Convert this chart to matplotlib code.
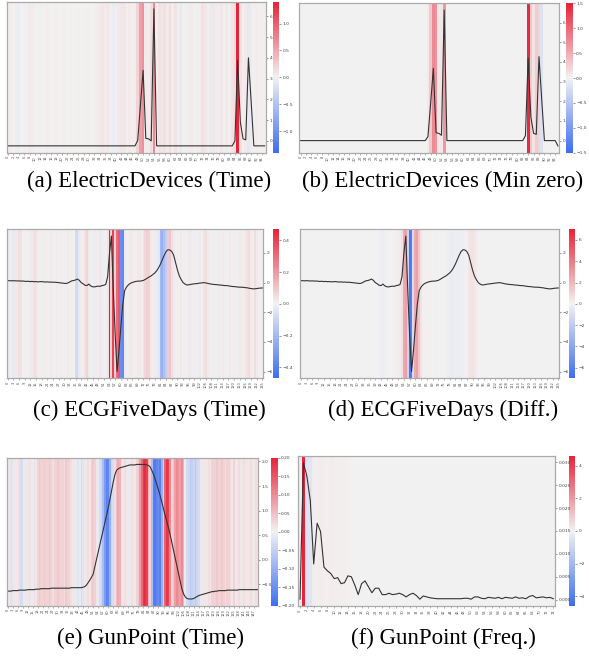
import numpy as np
import matplotlib
matplotlib.use('Agg')
import matplotlib.pyplot as plt
import seaborn as sns

# attribution values (one row per panel) and the series drawn on top
heat_a = [0.02, 0.04, 0.02, -0.04, -0.05, 0.01, 0.03, -0.02, 0.06, 0.04, 0.02, 0.01,
          0.02, 0.01, 0.03, 0.02, 0.01, 0.02, 0.02, 0.01, 0.02, 0.02, 0.01, 0.02,
          0.01, 0.02, 0.02, 0.01, 0.02, 0.02, 0.02, 0.01, 0.02, 0.04, 0.06, 0.08,
          0.05, 0.07, -0.03, -0.05, -0.03, 0.06, 0.08, 0.07, 0.02, 0.05, 0.03, 0.04,
          0.20, 0.55, 0.65, 0.05, 0.04, 0.15, 0.70, 0.03, 0.10, 0.07, 0.12, 0.05,
          0.14, 0.03, 0.10, -0.04, -0.09, 0.02, -0.03, 0.04, 0.05, 0.02, -0.03, 0.04,
          0.12, 0.07, 0.03, -0.06, 0.07, -0.05, 0.04, 0.07, 0.02, 0.06, 0.03, 0.10,
          0.15, 1.40, 0.10, 0.03, 0.06, -0.09, -0.06, 0.02, 0.04, 0.02, 0.03, 0.02]
line_a = [-0.24, -0.24, -0.24, -0.24, -0.24, -0.24, -0.24, -0.24, -0.24, -0.24, -0.24, -0.24,
          -0.24, -0.24, -0.24, -0.24, -0.24, -0.24, -0.24, -0.24, -0.24, -0.24, -0.24, -0.24,
          -0.24, -0.24, -0.24, -0.24, -0.24, -0.24, -0.24, -0.24, -0.24, -0.24, -0.24, -0.24,
          -0.24, -0.24, -0.24, -0.24, -0.24, -0.24, -0.24, -0.24, -0.24, -0.24, -0.24, -0.24,
          0.02, 1.70, 3.40, 0.12, 0.10, 0.00, 6.36, -0.24, -0.24, -0.24, -0.24, -0.24,
          -0.24, -0.24, -0.24, -0.24, -0.24, -0.24, -0.24, -0.24, -0.24, -0.24, -0.24, -0.24,
          -0.24, -0.24, -0.24, -0.24, -0.24, -0.24, -0.24, -0.24, -0.24, -0.24, -0.24, -0.24,
          0.00, 3.90, 0.90, 0.10, 0.05, 4.00, 1.90, -0.24, -0.24, -0.24, -0.24, -0.24]

heat_b = [0, 0, 0, 0, 0, 0, 0, 0, 0, 0, 0, 0,
          0, 0, 0, 0, 0, 0, 0, 0, 0, 0, 0, 0,
          0, 0, 0, 0, 0, 0, 0, 0, 0, 0, 0, 0,
          0, 0, 0, 0, 0, 0, 0, 0, 0, 0, 0, 0.06,
          0.30, 0.75, 0.70, 0.08, 0.08, 0.65, 0, 0, 0, 0, 0, 0,
          0, 0, 0, 0, 0, 0, 0, 0, 0, 0, 0, 0,
          0, 0, 0, 0, 0, 0, 0, 0, 0, 0, 0, 0,
          1.45, 0.30, 0.10, 0.28, 0.22, -0.18, 0, 0, 0, 0, 0, 0]
line_b = [0.00, 0.00, 0.00, 0.00, 0.00, 0.00, 0.00, 0.00, 0.00, 0.00, 0.00, 0.00,
          0.00, 0.00, 0.00, 0.00, 0.00, 0.00, 0.00, 0.00, 0.00, 0.00, 0.00, 0.00,
          0.00, 0.00, 0.00, 0.00, 0.00, 0.00, 0.00, 0.00, 0.00, 0.00, 0.00, 0.00,
          0.00, 0.00, 0.00, 0.00, 0.00, 0.00, 0.00, 0.00, 0.00, 0.00, 0.00, 0.20,
          1.90, 3.68, 0.40, 0.37, 0.27, 6.64, 0.00, 0.00, 0.00, 0.00, 0.00, 0.00,
          0.00, 0.00, 0.00, 0.00, 0.00, 0.00, 0.00, 0.00, 0.00, 0.00, 0.00, 0.00,
          0.00, 0.00, 0.00, 0.00, 0.00, 0.00, 0.00, 0.00, 0.00, 0.00, 0.00, 0.25,
          4.19, 1.20, 0.37, 0.32, 4.27, 2.10, 0.00, 0.00, 0.00, 0.00, 0.00, -0.27]

heat_c = [-0.02, -0.02, 0.01, -0.03, -0.02, 0.02, 0.04, 0.04, -0.01, 0.01,
          0.01, -0.01, 0.02, 0.02, 0.04, 0.04, 0.01, -0.01, 0.01, 0.02,
          0.01, 0.01, -0.01, 0.02, 0.01, 0.01, -0.02, 0.01, 0.02, 0.01,
          -0.01, 0.01, 0.02, 0.01, 0.01, 0.00, -0.08, -0.09, -0.03, 0.02,
          0.01, 0.04, 0.06, 0.02, -0.01, 0.01, -0.02, 0.02, 0.01, -0.03,
          0.02, -0.01, 0.01, 0.04, 0.47, 0.08, 0.40, 0.08, 0.30, 0.35,
          -0.35, -0.38, 0.02, -0.01, 0.01, 0.02, 0.02, -0.01, 0.01, 0.02,
          0.02, 0.01, 0.03, 0.06, 0.08, 0.07, 0.02, 0.01, 0.02, -0.02,
          -0.04, -0.20, -0.23, -0.18, -0.13, 0.09, 0.10, 0.04, -0.02, 0.01,
          -0.02, 0.01, 0.02, -0.01, 0.01, 0.01, 0.02, -0.02, 0.01, 0.01,
          0.01, -0.01, 0.02, 0.01, 0.03, 0.05, 0.02, 0.01, 0.01, -0.01,
          0.01, 0.01, -0.02, 0.01, 0.02, 0.01, 0.01, -0.01, 0.02, 0.01,
          0.01, 0.01, -0.01, 0.02, 0.01, 0.01, 0.02, 0.04, 0.05, 0.02,
          0.01, 0.05, 0.02, 0.01, -0.01, 0.01]
line_c = [0.13, 0.13, 0.12, 0.13, 0.12, 0.11, 0.12, 0.10, 0.11, 0.09,
          0.08, 0.09, 0.07, 0.08, 0.06, 0.07, 0.05, 0.06, 0.07, 0.05,
          0.04, 0.05, 0.03, 0.04, 0.02, 0.03, 0.01, 0.00, -0.02, -0.03,
          -0.05, -0.06, -0.02, 0.05, 0.12, 0.14, 0.18, 0.24, 0.15, 0.00,
          -0.08, -0.18, -0.20, -0.10, -0.22, -0.28, -0.29, -0.26, -0.24, -0.25,
          -0.20, -0.18, -0.12, 0.40, 2.00, 3.14, -0.50, -3.50, -6.00, -4.60,
          -3.00, -1.50, -0.55, -0.30, -0.15, -0.05, 0.00, 0.05, 0.08, 0.10,
          0.10, 0.12, 0.15, 0.22, 0.30, 0.38, 0.45, 0.55, 0.65, 0.80,
          1.00, 1.25, 1.55, 1.85, 2.10, 2.22, 2.20, 2.10, 1.85, 1.35,
          0.85, 0.45, 0.20, 0.00, -0.10, -0.16, -0.15, -0.12, -0.10, -0.08,
          -0.07, -0.05, -0.03, -0.02, 0.00, -0.02, -0.05, -0.08, -0.10, -0.12,
          -0.13, -0.14, -0.16, -0.17, -0.18, -0.20, -0.20, -0.22, -0.24, -0.26,
          -0.27, -0.28, -0.30, -0.31, -0.31, -0.32, -0.34, -0.35, -0.38, -0.40,
          -0.42, -0.42, -0.40, -0.38, -0.37, -0.36]

heat_d = [0.10, -0.10, 0.05, -0.10, 0.05, 0.00, 0.05, 0.00, 0.05, 0.00,
          0.00, 0.05, 0.00, 0.00, 0.05, 0.00, 0.00, 0.05, 0.00, 0.00,
          0.05, 0.00, 0.00, 0.05, 0.00, 0.00, 0.05, 0.00, 0.00, 0.05,
          0.00, 0.00, 0.05, 0.00, 0.00, 0.05, 0.00, 0.00, 0.05, 0.00,
          0.00, -0.10, -0.20, -0.20, -0.10, 0.00, 0.05, 0.00, 0.05, 0.10,
          0.10, 0.20, 0.30, 0.60, 2.50, 2.80, -1.50, -6.50, -6.00, -1.00,
          2.50, 2.80, 1.50, 0.50, 0.10, 0.10, 0.10, 0.05, 0.10, 0.05,
          0.05, 0.10, 0.05, 0.00, 0.05, 0.00, -0.10, -0.20, -0.30, -0.30,
          -0.30, -0.20, -0.30, -0.30, -0.20, -0.20, -0.10, 0.10, 0.40, 0.50,
          0.50, 0.40, 0.30, 0.10, 0.05, 0.00, 0.05, 0.00, 0.05, 0.00,
          0.00, 0.05, 0.00, 0.00, 0.05, 0.00, 0.00, 0.05, 0.00, 0.00,
          0.05, 0.00, 0.00, 0.05, 0.00, 0.00, 0.05, 0.00, 0.00, 0.05,
          0.00, 0.00, 0.05, 0.00, 0.00, 0.05, 0.00, 0.00, 0.05, 0.00,
          0.00, 0.05, 0.00, 0.00, 0.05, 0.00]
line_d = line_c  # same ECG sample

heat_e = [0.01, -0.01, 0.02, -0.02, 0.01, 0.01, -0.01, 0.02, -0.03, -0.03,
          -0.01, 0.01, 0.01, 0.02, 0.01, -0.01, 0.02, 0.01, 0.03, 0.04,
          0.03, 0.03, 0.04, 0.03, 0.03, 0.04, 0.03, 0.02, 0.03, 0.03,
          0.04, 0.03, 0.03, 0.03, 0.02, 0.04, 0.03, 0.03, 0.02, 0.01,
          0.01, -0.01, -0.02, -0.01, -0.03, -0.02, 0.01, 0.01, 0.02, 0.01,
          0.03, 0.04, 0.03, 0.01, -0.01, -0.03, -0.04, -0.08, -0.13, -0.17,
          -0.16, -0.10, -0.04, -0.03, 0.02, 0.05, 0.07, 0.06, 0.02, 0.01,
          0.02, 0.01, -0.01, 0.01, 0.02, 0.01, 0.01, 0.03, 0.04, 0.08,
          0.13, 0.18, 0.19, 0.17, 0.06, 0.03, -0.08, -0.17, -0.18, -0.16,
          -0.15, -0.17, -0.10, 0.04, 0.14, 0.18, 0.17, 0.10, 0.03, 0.04,
          0.08, 0.10, 0.09, 0.08, 0.10, 0.06, -0.01, -0.03, -0.04, -0.06,
          -0.05, -0.04, -0.06, -0.04, -0.03, -0.01, 0.01, 0.01, 0.01, 0.01,
          0.02, 0.01, 0.03, 0.03, 0.03, 0.04, 0.03, 0.03, 0.04, 0.03,
          0.02, 0.03, 0.03, 0.02, 0.01, 0.03, 0.01, 0.01, 0.02, 0.01,
          0.01, 0.02, 0.01, -0.01, 0.01, 0.02, 0.01, 0.01, 0.02, 0.01]
line_e = [-0.64, -0.64, -0.64, -0.63, -0.63, -0.63, -0.63, -0.62, -0.62, -0.62,
          -0.62, -0.62, -0.61, -0.61, -0.61, -0.61, -0.61, -0.60, -0.60, -0.60,
          -0.59, -0.59, -0.59, -0.59, -0.59, -0.59, -0.58, -0.58, -0.58, -0.58,
          -0.58, -0.58, -0.58, -0.58, -0.58, -0.58, -0.58, -0.58, -0.57, -0.57,
          -0.57, -0.57, -0.57, -0.57, -0.57, -0.56, -0.55, -0.52, -0.47, -0.42,
          -0.36, -0.30, -0.15, 0.00, 0.15, 0.30, 0.45, 0.60, 0.75, 0.90,
          1.05, 1.22, 1.40, 1.58, 1.73, 1.82, 1.85, 1.87, 1.88, 1.89,
          1.90, 1.91, 1.92, 1.93, 1.93, 1.93, 1.93, 1.94, 1.94, 1.94,
          1.94, 1.94, 1.94, 1.93, 1.92, 1.89, 1.82, 1.74, 1.64, 1.53,
          1.42, 1.30, 1.17, 1.03, 0.90, 0.77, 0.64, 0.50, 0.34, 0.18,
          0.02, -0.14, -0.30, -0.45, -0.60, -0.70, -0.76, -0.79, -0.80, -0.80,
          -0.80, -0.79, -0.77, -0.75, -0.73, -0.72, -0.71, -0.70, -0.69, -0.68,
          -0.67, -0.66, -0.65, -0.65, -0.64, -0.64, -0.63, -0.63, -0.63, -0.63,
          -0.63, -0.62, -0.62, -0.62, -0.62, -0.62, -0.62, -0.62, -0.61, -0.61,
          -0.61, -0.61, -0.61, -0.61, -0.61, -0.61, -0.61, -0.61, -0.61, -0.61]

heat_f = [-0.10, 4.60, -0.50, -0.45, 0.12, 0.10, 0.12, 0.10, 0.10, 0.12,
          0.10, 0.08, 0.10, 0.08, 0.06, 0.03, 0.02, 0.03, 0.02, 0.02,
          0.03, 0.02, 0.02, 0.03, 0.02, 0.02, 0.02, 0.03, 0.02, 0.02,
          0.02, 0.02, 0.03, 0.02, 0.02, 0.02, 0.02, 0.02, 0.02, 0.02,
          0.02, 0.02, 0.02, 0.02, 0.02, 0.02, 0.02, 0.02, 0.02, 0.02,
          0.02, 0.02, 0.02, 0.02, 0.02, 0.02, 0.02, 0.02, 0.02, 0.02,
          0.02, 0.02, 0.02, 0.02, 0.02, 0.02, 0.02, 0.02, 0.02, 0.02,
          0.02, 0.02, 0.02, 0.02, 0.02]
line_f = [0.0001, 0.0299, 0.0270, 0.0217, 0.0078, 0.0167, 0.0149, 0.0071, 0.0063, 0.0057,
          0.0046, 0.0048, 0.0035, 0.0037, 0.0052, 0.0050, 0.0032, 0.0011, 0.0035, 0.0041,
          0.0028, 0.0015, 0.0025, 0.0025, 0.0011, 0.0011, 0.0014, 0.0011, 0.0012, 0.0014,
          0.0011, 0.0006, 0.0011, 0.0014, 0.0009, 0.0001, 0.0008, 0.0006, 0.0004, 0.0003,
          0.0002, 0.0002, 0.0002, 0.0002, 0.0002, 0.0002, 0.0002, 0.0002, 0.0003, 0.0003,
          0.0001, 0.0006, 0.0006, 0.0003, 0.0002, 0.0005, 0.0004, 0.0003, 0.0005, 0.0002,
          0.0005, 0.0004, 0.0003, 0.0006, 0.0003, 0.0004, 0.0002, 0.0007, 0.0009, 0.0004,
          0.0005, 0.0006, 0.0004, 0.0005, 0.0002]

captions = ['(a) ElectricDevices (Time)', '(b) ElectricDevices (Min zero)',
            '(c) ECGFiveDays (Time)', '(d) ECGFiveDays (Diff.)',
            '(e) GunPoint (Time)', '(f) GunPoint (Freq.)']

W, H = 589, 656
fig = plt.figure(figsize=(W / 100, H / 100), dpi=100)
cmap = sns.diverging_palette(260, 10, s=90, l=50, as_cmap=True)


def box(x0, y0, x1, y1):
    return [x0 / W, 1 - y1 / H, (x1 - x0) / W, (y1 - y0) / H]


def panel(heat, line, vlim, step, hbox, cbox, caption, cap):
    ax = fig.add_axes(box(*hbox))
    cax = fig.add_axes(box(*cbox))
    n = len(heat)
    sns.heatmap(np.array(heat).reshape(1, -1), ax=ax, cbar_ax=cax, cmap=cmap,
                vmin=-vlim, vmax=vlim, xticklabels=False, yticklabels=False)
    ticks = np.arange(0, n, step)
    ax.set_xticks(ticks + 0.5)
    ax.set_xticklabels([str(t) for t in ticks], rotation=90, fontsize=2.6, color='#555')
    ax.tick_params(axis='x', length=1.5, width=0.4, pad=0.8, color='#777')
    ax2 = ax.twinx()
    ax2.plot(np.arange(n) + 0.5, line, color='#333', lw=0.8)
    ax2.tick_params(axis='y', labelsize=3.2, length=1.5, width=0.4, pad=1, colors='#444')
    for s in ax2.spines.values():
        s.set_color('#aaaaaa')
        s.set_linewidth(0.9)
    cax.tick_params(labelsize=3.2, length=1.5, width=0.4, pad=1, colors='#444')
    fig.text(cap[0] / W, 1 - cap[1] / H, caption, ha='center', va='baseline',
             fontsize=16.5, family='Liberation Serif')


panel(heat_a, line_a, 1.4, 2, (6.7, 2, 266, 152.7), (273, 2, 279.3, 152.7), captions[0], (149, 187))
panel(heat_b, line_b, 1.5, 2, (299.3, 3.3, 559.3, 152.7), (566, 3.3, 572.7, 152.7), captions[1], (443, 187))
panel(heat_c, line_c, 0.47, 3, (6.7, 229.3, 263.3, 378.3), (272.7, 229.3, 279.3, 378.3), captions[2], (149.7, 416))
panel(heat_d, line_d, 7.0, 3, (300, 229.3, 559.3, 378.3), (569.3, 229.3, 575, 378.3), captions[3], (443, 416))
panel(heat_e, line_e, 0.2, 3, (6.7, 457.7, 258.3, 605.7), (271, 457.7, 277.7, 605.7), captions[4], (150.8, 644))
panel(heat_f, line_f, 4.6, 2, (298.3, 456, 555, 606), (569.3, 456, 575, 606), captions[5], (443, 644))

fig.savefig('out.png', dpi=100)
